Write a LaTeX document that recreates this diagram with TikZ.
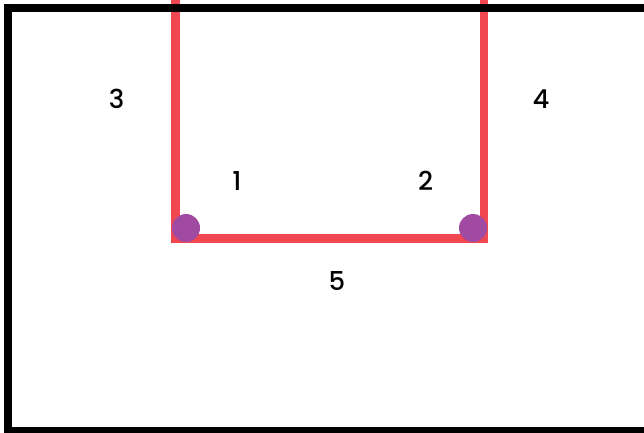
\documentclass[tikz,border=0pt]{standalone}
\usepackage{fontspec}
\setmainfont{Poppins}
\newfontfamily\lblfont{Poppins Medium}
\definecolor{pipered}{RGB}{241,71,81}
\definecolor{jointpurple}{RGB}{161,74,161}
\begin{document}
\begin{tikzpicture}[x=1pt, y=-1pt,
  lbl/.style={font=\lblfont\fontsize{26}{26}\selectfont, inner sep=0pt},
  wall/.style={draw=black, line width=8pt},
  pipe/.style={draw=pipered, line width=8.5pt, line join=miter},
  joint/.style={circle, fill=jointpurple, minimum size=28pt, inner sep=0pt}]
\useasboundingbox (0,0) rectangle (644,432);
\clip (0,0) rectangle (644,432);
% pipe run
\coordinate (pl) at (175.5,0);
\coordinate (pr) at (484,0);
\coordinate (cl) at (175.5,238.5);
\coordinate (cr) at (484,238.5);
\draw[pipe] (pl) -- (cl) -- (cr) -- (pr);
% outer wall
\draw[wall] (8,8) rectangle (664,431);
% joints
\node[joint] (jl) at (186,228) {};
\node[joint] (jr) at (473,228) {};
% labels
\node[lbl] (n3) at (116.5,98.5) {3};
\node[lbl] (n4) at (541,99.5) {4};
\node[lbl] (n1) at (237,181) {1};
\node[lbl] (n2) at (425.5,180.5) {2};
\node[lbl] (n5) at (337,280.5) {5};
\end{tikzpicture}
\end{document}
